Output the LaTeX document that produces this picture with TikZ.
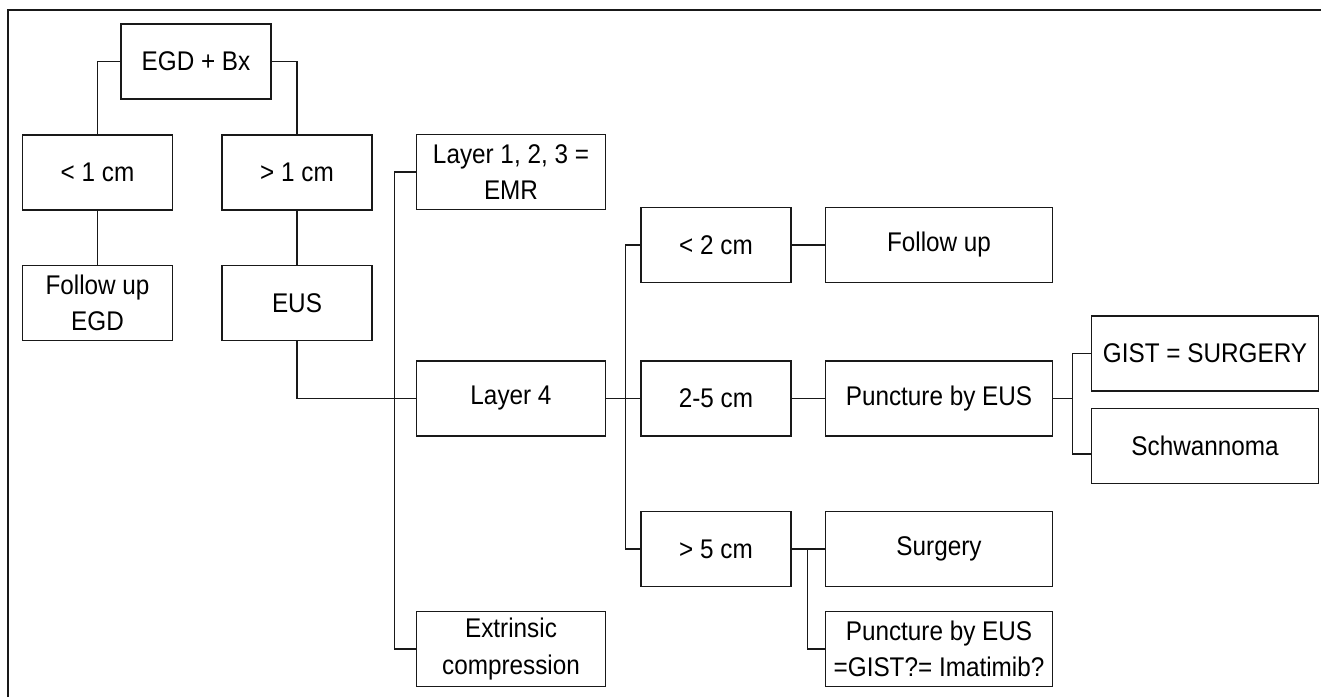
\documentclass[tikz,border=0pt]{standalone}
\usepackage{fontspec}
\setmainfont{Liberation Sans}[FakeStretch=0.9]
\begin{document}
\begin{tikzpicture}[x=0.5pt,y=-0.5pt,
	hop/.style={draw=den,line width=0.65pt,minimum height=37.5pt,inner sep=1pt,align=center,font=\fontsize{13.5}{18.25}\selectfont},
	hopnho/.style={hop,minimum width=75pt},
	hopvua/.style={hop,minimum width=94.5pt},
	hoplon/.style={hop,minimum width=113.5pt},
	day/.style={draw=den,line width=0.55pt}]
	\definecolor{den}{RGB}{25,25,25}
	
	\useasboundingbox (0,0) rectangle (1321,697);
	\draw[den,line width=1pt] (8,697) -- (8,10) -- (1321,10);
	
	%Cột trái
	\node[hopnho] (egd) at (196,61.5) {EGD + Bx};
	\node[hopnho] (nho1) at (97.5,172.5) {< 1 cm};
	\node[hopnho] (lon1) at (297,172.5) {> 1 cm};
	\node[hopnho] (theodoi) at (97.5,303) {Follow up\\EGD};
	\node[hopnho] (eus) at (297,303) {EUS};
	
	%Các lớp
	\node[hopvua] (lop123) at (511,172) {Layer 1, 2, 3 =\\EMR};
	\node[hopvua] (lop4) at (511,398.5) {Layer 4};
	\node[hopvua] (chenep) at (511,649) {Extrinsic\\compression};
	
	%Kích thước
	\node[hopnho] (nho2) at (716,245) {< 2 cm};
	\node[hopnho] (vua25) at (716,398.5) {2-5 cm};
	\node[hopnho] (lon5) at (716,549) {> 5 cm};
	
	\node[hoplon] (theodoi2) at (939,245) {Follow up};
	\node[hoplon] (choc) at (939,398.5) {Puncture by EUS};
	\node[hoplon] (mo) at (939,549) {Surgery};
	\node[hoplon] (choc2) at (939,649) {Puncture by EUS\\=GIST?= Imatimib?};
	
	\node[hoplon] (gist) at (1205,353.5) {GIST = SURGERY};
	\node[hoplon] (schw) at (1205,446) {Schwannoma};
	
	%Đường nối
	\draw[day] (egd.west) -| (nho1.north);
	\draw[day] (egd.east) -| (lon1.north);
	\draw[day] (nho1) -- (theodoi);
	\draw[day] (lon1) -- (eus);
	\draw[day] (eus.south) |- (lop4.west);
	\draw[day] (lop123.west) -- ++(-21,0) |- (chenep.west);
	\draw[day] (lop4.east) -- (vua25.west);
	\draw[day] (nho2.west) -- ++(-15,0) |- (lon5.west);
	\draw[day] (nho2) -- (theodoi2);
	\draw[day] (vua25) -- (choc);
	\draw[day] (lon5) -- (mo);
	\draw[day] (lon5.east) -- ++(15.5,0) |- (choc2.west);
	\draw[day] (choc.east) -- ++(19.5,0) coordinate (re) |- (gist.west);
	\draw[day] (re) |- ([yshift=-4pt]schw.west);
\end{tikzpicture}
\end{document}
